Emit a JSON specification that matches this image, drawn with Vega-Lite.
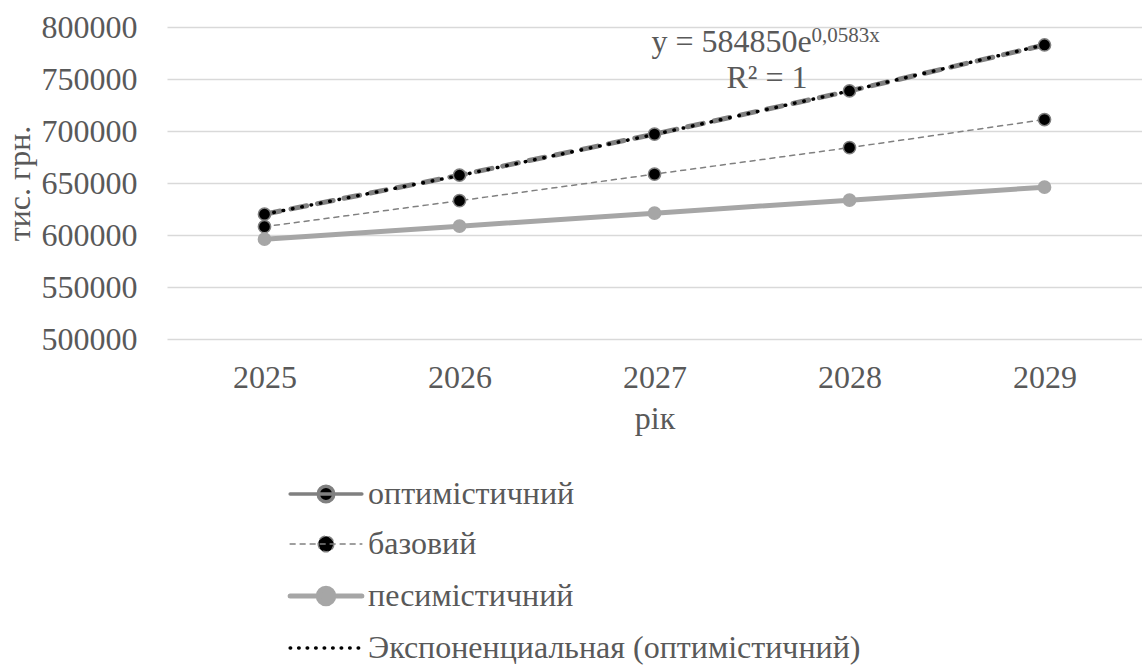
{
  "$schema": "https://vega.github.io/schema/vega-lite/v6.json",
  "width": 975,
  "height": 312,
  "autosize": {"type": "none"},
  "padding": {"left": 167, "top": 27, "right": 0, "bottom": 327},
  "background": "white",
  "config": {
    "view": {"stroke": null},
    "font": "Liberation Serif",
    "axis": {
      "domain": false,
      "ticks": false,
      "tickSize": 0,
      "labelFont": "Liberation Serif",
      "labelFontSize": 32,
      "labelColor": "#595959",
      "titleFont": "Liberation Serif",
      "titleFontSize": 32,
      "titleColor": "#595959",
      "titleFontWeight": "normal",
      "gridColor": "#d9d9d9",
      "gridWidth": 1.5
    },
    "legend": {
      "labelFont": "Liberation Serif",
      "labelFontSize": 32,
      "labelColor": "#595959",
      "labelLimit": 900
    }
  },
  "datasets": {
    "series": [
      {"series": "оптимістичний", "year": "2025", "value": 620000},
      {"series": "оптимістичний", "year": "2026", "value": 657500},
      {"series": "оптимістичний", "year": "2027", "value": 697000},
      {"series": "оптимістичний", "year": "2028", "value": 738500},
      {"series": "оптимістичний", "year": "2029", "value": 782700},
      {"series": "базовий", "year": "2025", "value": 608000},
      {"series": "базовий", "year": "2026", "value": 633000},
      {"series": "базовий", "year": "2027", "value": 658500},
      {"series": "базовий", "year": "2028", "value": 684000},
      {"series": "базовий", "year": "2029", "value": 711000},
      {"series": "песимістичний", "year": "2025", "value": 596000},
      {"series": "песимістичний", "year": "2026", "value": 608500},
      {"series": "песимістичний", "year": "2027", "value": 621000},
      {"series": "песимістичний", "year": "2028", "value": 633500},
      {"series": "песимістичний", "year": "2029", "value": 646000},
      {"series": "Экспоненциальная (оптимістичний)", "year": "2025", "value": 619950},
      {"series": "Экспоненциальная (оптимістичний)", "year": "2026", "value": 657180},
      {"series": "Экспоненциальная (оптимістичний)", "year": "2027", "value": 696650},
      {"series": "Экспоненциальная (оптимістичний)", "year": "2028", "value": 738500},
      {"series": "Экспоненциальная (оптимістичний)", "year": "2029", "value": 782860}
    ],
    "notes": [
      {"kind": "main", "label": "y = 584850e", "year": "2027", "value": 776000},
      {"kind": "sup", "label": "0,0583x", "year": "2027", "value": 776000},
      {"kind": "r2", "label": "R² = 1", "year": "2027", "value": 741300}
    ]
  },
  "layer": [
    {
      "data": {"name": "series"},
      "encoding": {
        "x": {
          "field": "year",
          "type": "ordinal",
          "scale": {"type": "point", "padding": 0.5},
          "title": "рік",
          "axis": {"labelAngle": 0, "grid": false, "labelPadding": 23, "titlePadding": 10}
        },
        "y": {
          "field": "value",
          "type": "quantitative",
          "scale": {"domain": [500000, 800000], "zero": false, "nice": false},
          "title": "тис. грн.",
          "axis": {
            "values": [500000, 550000, 600000, 650000, 700000, 750000, 800000],
            "format": "d",
            "grid": true,
            "labelPadding": 30,
            "titlePadding": 5
          }
        },
        "stroke": {
          "field": "series",
          "type": "nominal",
          "scale": {
            "domain": ["оптимістичний", "базовий", "песимістичний", "Экспоненциальная (оптимістичний)"],
            "range": ["#808080", "#808080", "#a6a6a6", "#000000"]
          },
          "legend": {
            "title": null,
            "orient": "none",
            "legendX": 126,
            "legendY": 451,
            "direction": "vertical",
            "symbolSize": 900,
            "symbolOffset": 17,
            "labelOffset": 26,
            "rowPadding": 18,
            "encode": {
              "symbols": {
                "update": {
                  "shape": {"signal": "datum.index === 3 ? 'M-2.39,0H2.39' : 'M-2.39,0H2.39M0.52,0C0.52,0.287,0.287,0.52,0,0.52C-0.287,0.52,-0.52,0.287,-0.52,0C-0.52,-0.287,-0.287,-0.52,0,-0.52C0.287,-0.52,0.52,-0.287,0.52,0Z'"},
                  "fill": {"signal": "datum.index === 2 ? '#a6a6a6' : datum.index === 3 ? 'transparent' : '#000000'"},
                  "strokeDash": {"signal": "datum.index === 0 ? [] : datum.index === 1 ? [5,5] : datum.index === 3 ? [0.5,8] : []"},
                  "strokeWidth": {"signal": "datum.index === 1 ? 1.5 : datum.index === 3 ? 3.5 : datum.index === 0 ? 3.5 : 5"},
                  "strokeCap": {"value": "round"},
                  "opacity": {"value": 1}
                }
              }
            }
          }
        }
      },
      "layer": [
        {
          "transform": [{"filter": "datum.series === 'песимістичний'"}],
          "mark": {"type": "line", "strokeWidth": 5, "strokeCap": "round"}
        },
        {
          "transform": [{"filter": "datum.series === 'базовий'"}],
          "mark": {"type": "line", "strokeWidth": 1.5, "strokeDash": [5, 5], "strokeCap": "round"}
        },
        {
          "transform": [{"filter": "datum.series === 'оптимістичний'"}],
          "mark": {"type": "line", "strokeWidth": 5, "strokeDash": [16, 11], "strokeCap": "round"}
        },
        {
          "transform": [{"filter": "datum.series === 'Экспоненциальная (оптимістичний)'"}],
          "mark": {"type": "line", "strokeWidth": 3.5, "strokeDash": [0.5, 9], "strokeCap": "round"}
        },
        {
          "transform": [{"filter": "datum.series !== 'Экспоненциальная (оптимістичний)'"}],
          "mark": {"type": "point", "filled": true, "size": 150, "strokeWidth": 1.5, "opacity": 1},
          "encoding": {
            "fill": {
              "field": "series",
              "type": "nominal",
              "scale": {
                "domain": ["оптимістичний", "базовий", "песимістичний"],
                "range": ["#000000", "#000000", "#a6a6a6"]
              },
              "legend": null
            }
          }
        }
      ]
    },
    {
      "data": {"name": "notes"},
      "transform": [{"filter": "datum.kind === 'main'"}],
      "mark": {"type": "text", "align": "left", "baseline": "alphabetic", "dx": -3, "fontSize": 32, "font": "Liberation Serif", "color": "#595959"},
      "encoding": {
        "x": {"field": "year", "type": "ordinal"},
        "y": {"field": "value", "type": "quantitative"},
        "text": {"field": "label"}
      }
    },
    {
      "data": {"name": "notes"},
      "transform": [{"filter": "datum.kind === 'sup'"}],
      "mark": {"type": "text", "align": "left", "baseline": "alphabetic", "dx": 157, "dy": -10, "fontSize": 21, "font": "Liberation Serif", "color": "#595959"},
      "encoding": {
        "x": {"field": "year", "type": "ordinal"},
        "y": {"field": "value", "type": "quantitative"},
        "text": {"field": "label"}
      }
    },
    {
      "data": {"name": "notes"},
      "transform": [{"filter": "datum.kind === 'r2'"}],
      "mark": {"type": "text", "align": "left", "baseline": "alphabetic", "dx": 72, "fontSize": 32, "font": "Liberation Serif", "color": "#595959"},
      "encoding": {
        "x": {"field": "year", "type": "ordinal"},
        "y": {"field": "value", "type": "quantitative"},
        "text": {"field": "label"}
      }
    }
  ]
}
